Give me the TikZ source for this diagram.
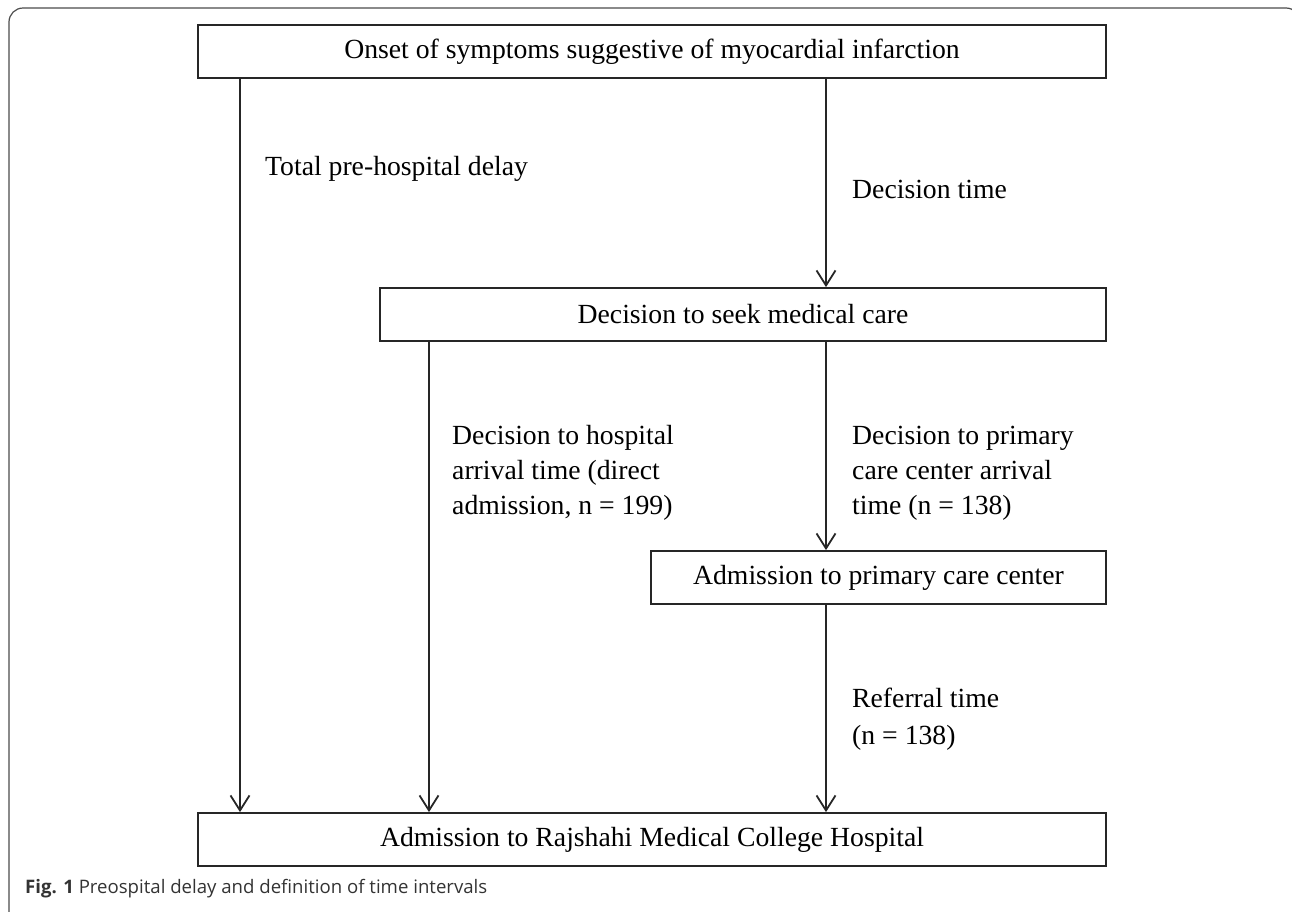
\documentclass[tikz,border=0pt]{standalone}
\usepackage{fontspec}
\setmainfont{Liberation Serif}
\newfontfamily\capfont{Open Sans}
\usetikzlibrary{arrows.meta}
\begin{document}
\begin{tikzpicture}[x=1pt,y=-1pt,
  box/.style={draw=black!85, line width=1.8pt, minimum height=53pt, inner sep=0pt, font=\fontsize{27.7}{34}\selectfont},
  lbl/.style={anchor=west, align=left, inner sep=0pt, font=\fontsize{27.7}{35}\selectfont},
  arr/.style={line width=1.8pt, draw=black!85, -{Straight Barb[length=15pt,width=19pt,line width=1.8pt]}},
  frame/.style={rounded corners=14pt, line width=1.2pt, draw=black!70}]
\useasboundingbox (0,0) rectangle (1292,911);
\draw[frame] (9,925) -- (9,8) -- (1300,8) -- (1300,925);
\node[box, minimum width=908pt] (onset) at (652,51.5) {Onset of symptoms suggestive of myocardial infarction};
\node[box, minimum width=726pt] (seek) at (743,314.5) {Decision to seek medical care};
\node[box, minimum width=455pt] (prim) at (878.5,577.5) {Admission to primary care center};
\node[box, minimum width=908pt] (rmch) at (652,839.5) {Admission to Rajshahi Medical College Hospital};
\coordinate (xa) at (240,0);
\coordinate (xb) at (429,0);
\coordinate (xc) at (826,0);
\draw[arr] (onset.south -| xa) -- (rmch.north -| xa);
\draw[arr] (onset.south -| xc) -- (seek.north -| xc);
\draw[arr] (seek.south -| xb) -- (rmch.north -| xb);
\draw[arr] (seek.south -| xc) -- (prim.north -| xc);
\draw[arr] (prim.south -| xc) -- (rmch.north -| xc);
\node[lbl] (ltot) at (265,169) {Total pre-hospital delay};
\node[lbl] (ldec) at (852,189) {Decision time};
\node[lbl] (lhosp) at (452,473) {Decision to hospital\\arrival time (direct\\admission, n = 199)};
\node[lbl] (lprim) at (852,473) {Decision to primary\\care center arrival\\time (n = 138)};
\node[lbl, font=\fontsize{27.7}{37}\selectfont] (lref) at (852,719) {Referral time\\(n = 138)};
\node[anchor=west, inner sep=0pt, text=black!80] (cap) at (25,889) {\capfont\fontsize{18.6}{21}\selectfont\textbf{Fig. 1} Preospital delay and definition of time intervals};
\end{tikzpicture}
\end{document}
